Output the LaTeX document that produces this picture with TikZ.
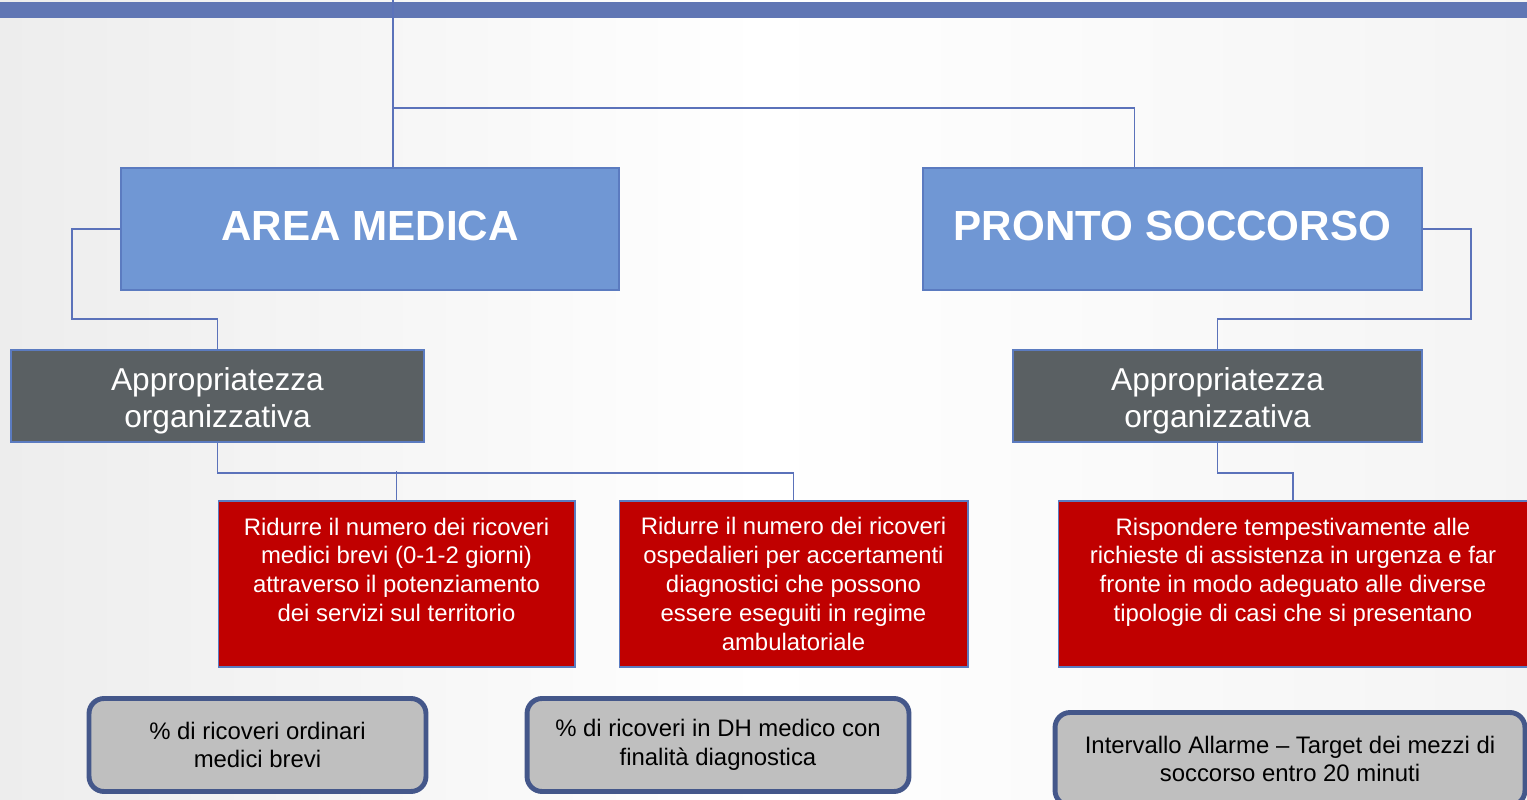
\documentclass[tikz,border=0pt]{standalone}
\usepackage{fontspec}
\setmainfont{Liberation Sans}
\usetikzlibrary{positioning}
\definecolor{barblue}{HTML}{6076B4}
\definecolor{linkblue}{HTML}{5B72BA}
\definecolor{edgeblue}{HTML}{5B7BC0}
\definecolor{areablue}{HTML}{7097D4}
\definecolor{slate}{HTML}{5A6063}
\definecolor{alarmred}{HTML}{C00000}
\definecolor{kpigray}{HTML}{BFBFBF}
\definecolor{kpiedge}{HTML}{44578A}
\definecolor{bgside}{HTML}{EDEDED}
\begin{document}
\begin{tikzpicture}[x=0.02cm,y=-0.02cm,
  link/.style={draw=linkblue,line width=1.1pt},
  areabox/.style={draw=edgeblue,line width=0.9pt,fill=areablue,text=white,text depth=0.12cm,
    font=\fontsize{24}{29}\selectfont\bfseries,minimum height=2.44cm,minimum width=9.96cm},
  orgbox/.style={draw=edgeblue,line width=0.9pt,fill=slate,text=white,align=center,text height=1.4cm,
    font=\fontsize{18}{21}\selectfont,minimum height=1.84cm},
  goalbox/.style={draw=edgeblue,line width=0.6pt,fill=alarmred,text=white,align=center,
    font=\fontsize{13.6}{16.4}\selectfont,minimum height=3.32cm},
  kpibox/.style={draw=kpiedge,line width=2.8pt,fill=kpigray,rounded corners=0.3cm,
    align=center,font=\fontsize{13.6}{16.4}\selectfont,minimum height=1.86cm}]

\useasboundingbox (0,0) rectangle (1527,800);
\shade[left color=bgside,right color=bgside!60,middle color=white] (0,0) rectangle (1527,800);
\fill[barblue] (0,2) rectangle (1527,18);

\coordinate (top) at (393,0);

% areas
\node[areabox] (am) at (370,229) {AREA MEDICA};
\node[areabox,minimum width=9.98cm] (ps) at (1172.5,229) {PRONTO SOCCORSO};

% appropriatezza
\node[orgbox,minimum width=8.26cm] (ao1) at (217.5,396) {Appropriatezza\\organizzativa};
\node[orgbox,minimum width=8.18cm] (ao2) at (1217.5,396) {Appropriatezza\\organizzativa};

% obiettivi
\node[goalbox,minimum width=7.14cm] (r1) at (396.5,584)
  {Ridurre il numero dei ricoveri\\medici brevi (0-1-2 giorni)\\attraverso il potenziamento\\dei servizi sul territorio\\\mbox{}};
\node[goalbox,minimum width=6.98cm] (r2) at (793.5,584)
  {Ridurre il numero dei ricoveri\\ospedalieri per accertamenti\\diagnostici che possono\\essere eseguiti in regime\\ambulatoriale};
\node[goalbox,minimum width=9.4cm] (r3) at (1293,584)
  {Rispondere tempestivamente alle\\richieste di assistenza in urgenza e far\\fronte in modo adeguato alle diverse\\tipologie di casi che si presentano\\\mbox{}};

% indicatori
\node[kpibox,minimum width=6.74cm] (k1) at (257.5,745) {\% di ricoveri ordinari\\medici brevi};
\node[kpibox,minimum width=7.64cm] (k2) at (718,745) {\% di ricoveri in DH medico con\\finalità diagnostica};
\node[kpibox,minimum width=9.4cm] (k3) at (1290,759) {Intervallo Allarme – Target dei mezzi di\\soccorso entro 20 minuti};

% connectors
\draw[link] (top) -- (top |- am.north);
\draw[link] (top |- 0,108) -| ([xshift=-0.76cm]ps.north);
\draw[link] (am.west) -- ++(-48,0) |- ([yshift=0.6cm]ao1.north) -- (ao1.north);
\draw[link] (ps.east) -- ++(48,0) |- ([yshift=0.6cm]ao2.north) -- (ao2.north);
\draw[link] (ao1.south) -- ++(0,30) -| (r2.north);
\draw[link] (r1.north) -- ++(0,-29);
\draw[link] (ao2.south) -- ++(0,30) -| (r3.north);
\end{tikzpicture}
\end{document}
